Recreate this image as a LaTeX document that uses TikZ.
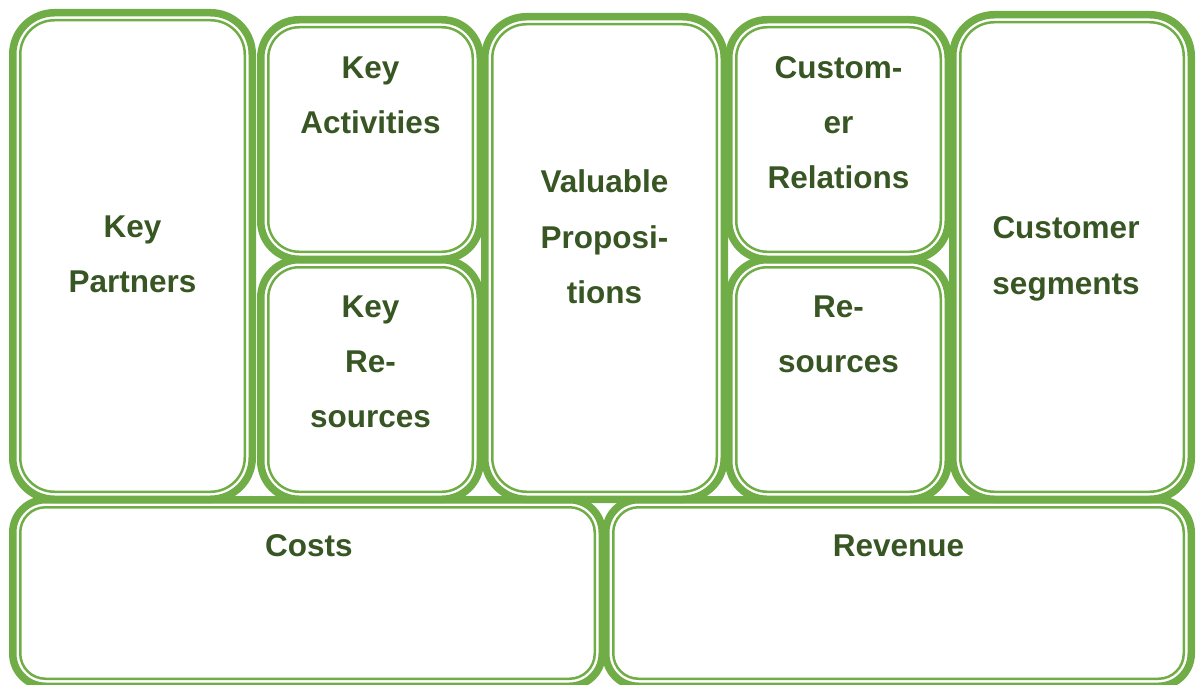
\documentclass[tikz,border=0pt]{standalone}
\usepackage{fontspec}
\setmainfont{Liberation Sans}
\definecolor{canvasgreen}{HTML}{70AD47}
\definecolor{canvastext}{HTML}{375623}

% Rounded box with a thick-thin compound border.
% Arguments: outer left, top, right, bottom (in px, y downwards).
\newcommand\canvasbox[4]{%
  \pgfmathsetmacro\gl{#1+6.25}%
  \pgfmathsetmacro\gt{#2+6.25}%
  \pgfmathsetmacro\gr{#3-6.25}%
  \pgfmathsetmacro\gb{#4-6.25}%
  \pgfmathsetmacro\boxrad{0.16667*min(\gr-\gl,\gb-\gt)}%
  \pgfmathsetmacro\radthick{\boxrad+2.5}%
  \pgfmathsetmacro\radthin{\boxrad-5}%
  \draw[thickband, rounded corners=\radthick pt]
    (\gl-2.5,\gt-2.5) rectangle (\gr+2.5,\gb+2.5);
  \draw[thinband, rounded corners=\radthin pt]
    (\gl+5,\gt+5) rectangle (\gr-5,\gb-5);
}

\begin{document}
\begin{tikzpicture}[x=1pt, y=-1pt,
  thickband/.style={draw=canvasgreen, line width=7.5pt},
  thinband/.style={draw=canvasgreen, line width=2.5pt},
  lbl/.style={anchor=base, inner sep=0pt, text=canvastext,
    font=\fontsize{31.5}{36}\selectfont\bfseries}]
\useasboundingbox (0,0) rectangle (1199,685);
\clip (0,0) rectangle (1199,685);

% top row
\canvasbox{9}{9}{256}{503}      % key partners
\canvasbox{257}{16}{484}{263}   % key activities
\canvasbox{257}{256}{484}{503}  % key resources
\canvasbox{481}{13}{728}{503}   % value propositions
\canvasbox{725}{16}{952}{263}   % customer relations
\canvasbox{725}{256}{952}{503}  % channels
\canvasbox{949}{11}{1195}{503}  % customer segments
% bottom row
\canvasbox{9}{496}{606}{690}    % costs
\canvasbox{602}{496}{1195}{690} % revenue

% labels
\node[lbl] (kp1) at (132.5,237) {Key};
\node[lbl] (kp2) at (132.5,292) {Partners};

\node[lbl] (ka1) at (370.5,78) {Key};
\node[lbl] (ka2) at (370.5,133) {Activities};

\node[lbl] (kr1) at (370.5,317) {Key};
\node[lbl] (kr2) at (370.5,372) {Re-};
\node[lbl] (kr3) at (370.5,427) {sources};

\node[lbl] (vp1) at (604.5,192) {Valuable};
\node[lbl] (vp2) at (604.5,248) {Proposi-};
\node[lbl] (vp3) at (604.5,303) {tions};

\node[lbl] (cr1) at (838.5,78) {Custom-};
\node[lbl] (cr2) at (838.5,133) {er};
\node[lbl] (cr3) at (838.5,188) {Relations};

\node[lbl] (rs1) at (838.5,317) {Re-};
\node[lbl] (rs2) at (838.5,372) {sources};

\node[lbl] (cs1) at (1066,238) {Customer};
\node[lbl] (cs2) at (1066,294) {segments};

\node[lbl] (co1) at (309,556) {Costs};
\node[lbl] (rv1) at (898.5,556) {Revenue};
\end{tikzpicture}
\end{document}
